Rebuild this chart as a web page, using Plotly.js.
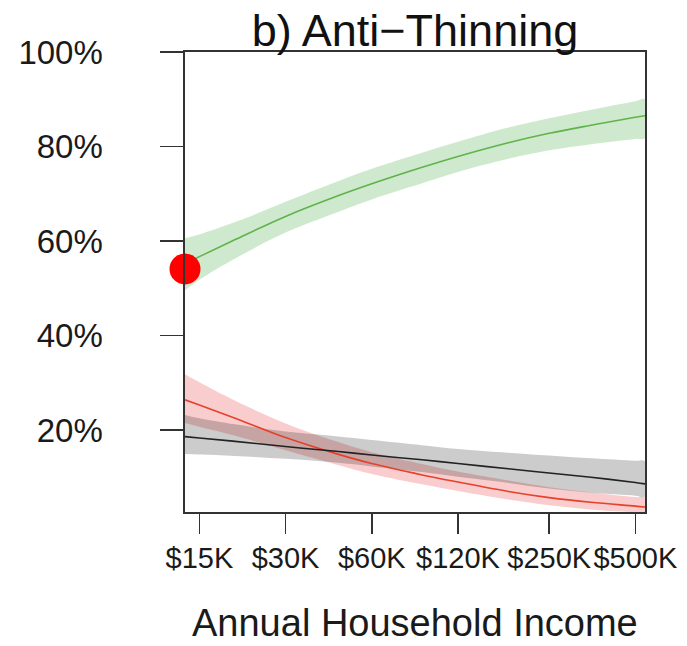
<!DOCTYPE html>
<html>
<head>
<meta charset="utf-8">
<script src="https://cdn.plot.ly/plotly-3.0.1.min.js"></script>
<style>html,body{margin:0;padding:0;background:#fff;}#chart{width:687px;height:646px;}</style>
</head>
<body>
<div id="chart"></div>
<script>
// Income sample points (dollars), x-axis is log scale
const income = [13360, 15000, 20000, 30000, 45000, 60000, 90000, 120000, 180000, 250000, 350000, 500000, 540364];

// Green series (estimate, upper, lower)
const greenFit   = [0.552, 0.567, 0.603, 0.652, 0.694, 0.721, 0.756, 0.779, 0.808, 0.828, 0.845, 0.862, 0.865];
const greenUpper = [0.606, 0.614, 0.640, 0.683, 0.725, 0.753, 0.787, 0.810, 0.840, 0.860, 0.878, 0.896, 0.900];
const greenLower = [0.496, 0.518, 0.563, 0.618, 0.660, 0.688, 0.722, 0.746, 0.774, 0.792, 0.805, 0.816, 0.818];

// Red series
const redFit   = [0.264, 0.253, 0.225, 0.184, 0.150, 0.129, 0.105, 0.090, 0.070, 0.057, 0.047, 0.039, 0.037];
const redUpper = [0.318, 0.301, 0.262, 0.214, 0.176, 0.153, 0.128, 0.112, 0.093, 0.079, 0.068, 0.058, 0.056];
const redLower = [0.215, 0.207, 0.188, 0.157, 0.127, 0.107, 0.085, 0.071, 0.053, 0.041, 0.032, 0.026, 0.025];

// Black series
const blackFit   = [0.186, 0.183, 0.176, 0.165, 0.155, 0.147, 0.137, 0.129, 0.118, 0.109, 0.100, 0.089, 0.086];
const blackUpper = [0.232, 0.225, 0.212, 0.197, 0.187, 0.179, 0.168, 0.160, 0.152, 0.146, 0.140, 0.135, 0.134];
const blackLower = [0.149, 0.148, 0.145, 0.139, 0.131, 0.123, 0.111, 0.101, 0.088, 0.076, 0.067, 0.061, 0.059];

// Highlight point
const dotIncome = [13360];
const dotValue = [0.541];

// Ticks
const xTickVals = [15000, 30000, 60000, 120000, 250000, 500000];
const xTickText = ['$15K', '$30K', '$60K', '$120K', '$250K', '$500K'];
const yTickVals = [0.2, 0.4, 0.6, 0.8, 1.0];
const yTickText = ['20%', '40%', '60%', '80%', '100%'];

const FONT = '"Liberation Sans", Arial, Helvetica, sans-serif';

function band(upper, lower, color) {
  return {
    x: income.concat(income.slice().reverse()),
    y: upper.concat(lower.slice().reverse()),
    type: 'scatter', mode: 'lines', fill: 'toself',
    fillcolor: color, line: {width: 0, shape: 'spline', smoothing: 1},
    hoverinfo: 'skip', showlegend: false
  };
}
function line(vals, color) {
  return {
    x: income, y: vals, type: 'scatter', mode: 'lines',
    line: {color: color, width: 1.6, shape: 'spline', smoothing: 1},
    showlegend: false
  };
}

const data = [
  band(greenUpper, greenLower, 'rgba(77,175,74,0.27)'),
  band(redUpper, redLower, 'rgba(228,26,28,0.22)'),
  band(blackUpper, blackLower, 'rgba(0,0,0,0.2)'),
  line(greenFit, '#5fb34a'),
  line(redFit, '#e5412b'),
  line(blackFit, '#222222'),
  {
    x: dotIncome, y: dotValue, type: 'scatter', mode: 'markers',
    marker: {color: '#ff0000', size: 31, line: {width: 0}},
    cliponaxis: false, showlegend: false
  }
];

const layout = {
  width: 687, height: 646,
  paper_bgcolor: '#ffffff', plot_bgcolor: '#ffffff',
  margin: {l: 185, r: 42, t: 52, b: 134},
  showlegend: false,
  font: {family: FONT, color: '#1a1a1a'},
  title: {
    text: 'b) Anti\u2212Thinning',
    font: {family: FONT, size: 45, color: '#111'},
    xref: 'paper', x: 0.5, xanchor: 'center',
    yref: 'container', y: 1 - 30/646, yanchor: 'middle'
  },
  xaxis: {
    type: 'log',
    range: [Math.log10(13360), Math.log10(540364)],
    tickvals: xTickVals, ticktext: xTickText,
    tickangle: 0,
    ticks: 'outside', ticklen: 20, tickwidth: 1.5, tickcolor: '#333',
    tickfont: {family: FONT, size: 29, color: '#1a1a1a'},
    ticklabelstandoff: 0,
    showline: true, linecolor: '#333', linewidth: 1.6, mirror: true,
    showgrid: false, zeroline: false
  },
  yaxis: {
    range: [0.0265, 1.0],
    tickvals: yTickVals, ticktext: yTickText,
    ticks: 'outside', ticklen: 23, tickwidth: 1.5, tickcolor: '#333',
    tickfont: {family: FONT, size: 33, color: '#1a1a1a'},
    ticklabelstandoff: 51,
    showline: true, linecolor: '#333', linewidth: 1.6, mirror: true,
    showgrid: false, zeroline: false
  },
  annotations: [{
    text: 'Annual Household Income',
    xref: 'paper', yref: 'paper', x: 0.5, y: -(645 - 512) / 460,
    xanchor: 'center', yanchor: 'bottom', showarrow: false, borderpad: 0,
    font: {family: FONT, size: 38, color: '#1a1a1a'}
  }]
};

Plotly.newPlot('chart', data, layout, {staticPlot: true, displayModeBar: false});
</script>
</body>
</html>
